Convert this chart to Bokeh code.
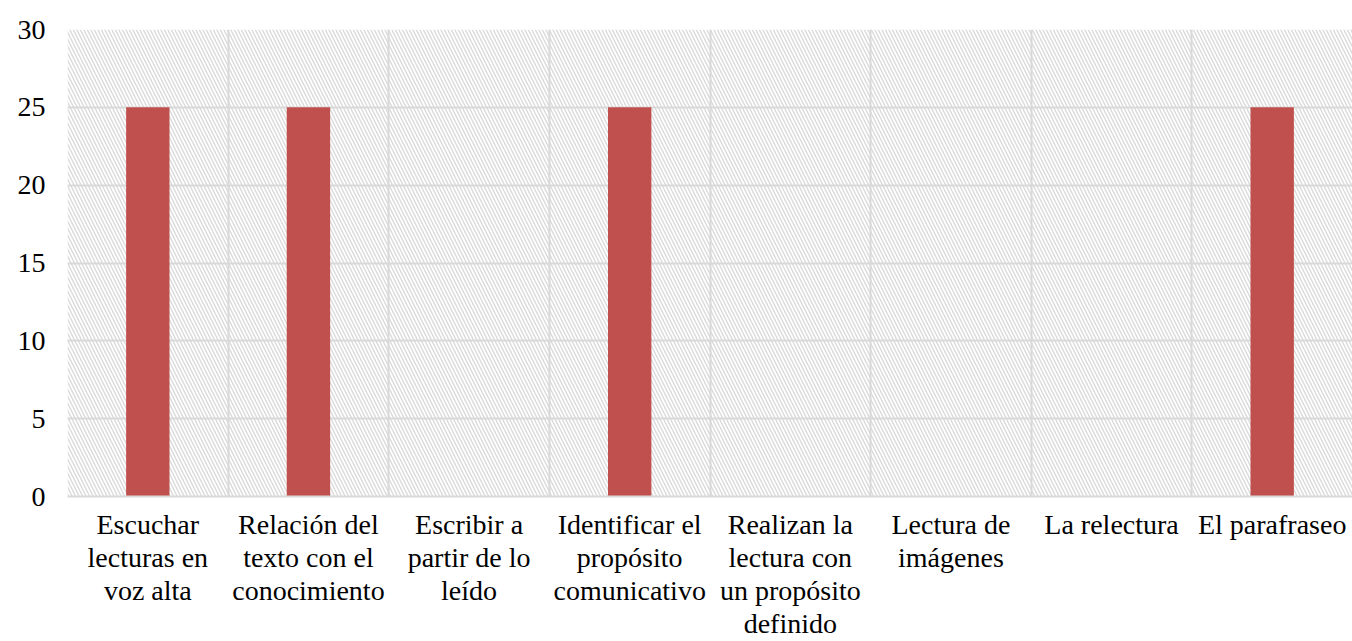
from bokeh.plotting import figure
from bokeh.models import (FactorRange, FixedTicker, BoxAnnotation, ColumnDataSource,
                          CategoricalAxis, CustomJSTickFormatter)
from bokeh.embed import file_html
from bokeh.resources import INLINE

categories = ["Escuchar lecturas en voz alta", "Relación del texto con el conocimiento",
              "Escribir a partir de lo leído", "Identificar el propósito comunicativo",
              "Realizan la lectura con un propósito definido", "Lectura de imágenes",
              "La relectura", "El parafraseo"]
label_lines = [["Escuchar", "lecturas en", "voz alta"],
               ["Relación del", "texto con el", "conocimiento"],
               ["Escribir a", "partir de lo", "leído"],
               ["Identificar el", "propósito", "comunicativo"],
               ["Realizan la", "lectura con", "un propósito", "definido"],
               ["Lectura de", "imágenes"],
               ["La relectura"],
               ["El parafraseo"]]
values = [25, 25, 0, 25, 0, 0, 0, 25]
y_ticks = [0, 5, 10, 15, 20, 25, 30]

src = ColumnDataSource(dict(cat=categories, val=values))

p = figure(x_range=FactorRange(*categories, range_padding=0), y_range=(0, 30),
           width=1352, height=641, output_backend="svg", toolbar_location=None,
           x_axis_location=None,
           min_border_left=67, min_border_right=0, min_border_top=29, min_border_bottom=145)
p.outline_line_color = None
p.background_fill_color = "white"

p.add_layout(BoxAnnotation(fill_color="white", fill_alpha=1.0, line_color=None,
                           hatch_pattern="left_diagonal_line", hatch_color="#dadada",
                           hatch_scale=7, hatch_weight=1.4, level="image"))

p.vbar(x="cat", top="val", width=0.27, source=src, fill_color="#C0504D", line_color=None)

p.yaxis.ticker = FixedTicker(ticks=y_ticks)
p.xgrid.ticker = FixedTicker(ticks=list(range(len(categories) + 1)))
for g in (p.xgrid, p.ygrid):
    g.grid_line_color = "#d9d9d9"
    g.grid_line_width = 2

p.yaxis.axis_line_color = None
p.yaxis.major_tick_line_color = None
p.yaxis.minor_tick_line_color = None
p.yaxis.major_tick_out = 0
p.yaxis.major_label_text_font = "Liberation Serif"
p.yaxis.major_label_text_font_size = "28px"
p.yaxis.major_label_text_color = "#000000"
p.yaxis.major_label_standoff = 22

n_lines = max(len(l) for l in label_lines)
for i in range(n_lines):
    mapping = {c: (l[i] if i < len(l) else " ") for c, l in zip(categories, label_lines)}
    ax = CategoricalAxis(formatter=CustomJSTickFormatter(
        args=dict(m=mapping), code="return (tick in m) ? m[tick] : ' ';"))
    ax.axis_line_color = "#d9d9d9" if i == 0 else None
    ax.axis_line_width = 2
    ax.major_tick_line_color = None
    ax.minor_tick_line_color = None
    ax.major_tick_out = 0
    ax.major_tick_in = 0
    ax.major_label_text_font = "Liberation Serif"
    ax.major_label_text_font_size = "28px"
    ax.major_label_text_color = "#000000"
    ax.major_label_text_line_height = 1.0
    ax.major_label_standoff = 12 if i == 0 else -1
    p.add_layout(ax, "below")

open("out.html", "w").write(file_html(p, INLINE))
